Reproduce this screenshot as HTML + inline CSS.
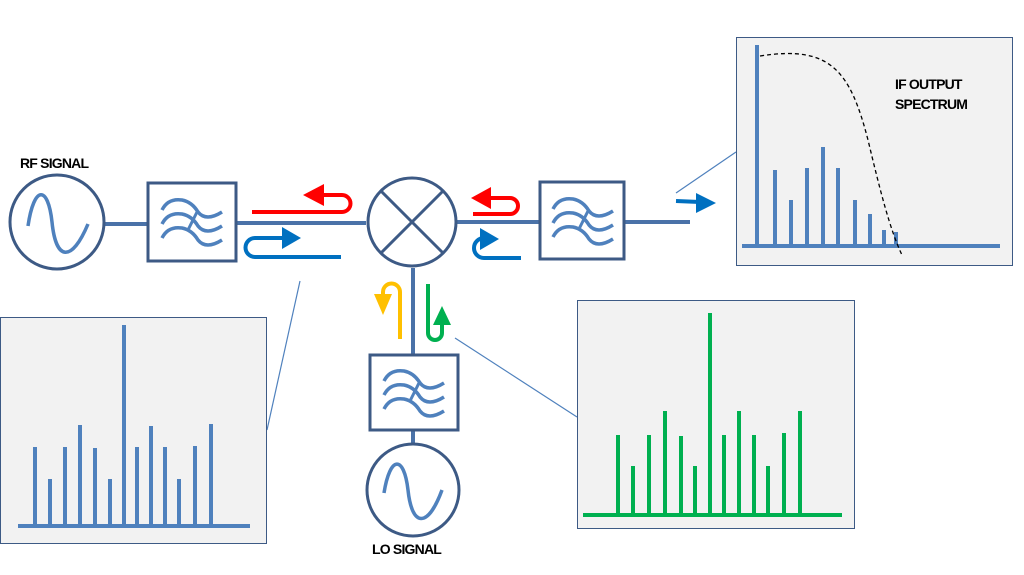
<!DOCTYPE html>
<html><head><style>body{margin:0;background:#fff}svg{display:block}</style></head><body>
<svg width="1024" height="575" viewBox="0 0 1024 575" xmlns="http://www.w3.org/2000/svg">
<defs>
<g id="filt">
<path d="M12,24 q6,-12 20,-10 q10,2 16,12 q8,10 24,0" fill="none" stroke="#4f81bd" stroke-width="3.5"/>
<path d="M12,38 q6,-12 20,-10 q10,2 16,12 q8,10 24,0" fill="none" stroke="#4f81bd" stroke-width="3.5"/>
<path d="M12,52 q6,-12 20,-10 q10,2 16,12 q8,10 24,0" fill="none" stroke="#4f81bd" stroke-width="3.5"/>
<path d="M38,44 l10,-20" stroke="#4f81bd" stroke-width="3"/>
</g>
</defs>
<g stroke="#4a72a8" stroke-width="4" fill="none">
<line x1="105" y1="224" x2="148" y2="224"/>
<line x1="236" y1="223" x2="366" y2="223"/>
<line x1="457" y1="222" x2="540" y2="222"/>
<line x1="624" y1="222" x2="690" y2="222"/>
<line x1="413" y1="268" x2="413" y2="355"/>
<line x1="413" y1="430" x2="413" y2="443"/>
</g>
<g stroke="#3d5a85" stroke-width="3" fill="#fff">
<circle cx="57" cy="222" r="47"/>
<rect x="148" y="183" width="88" height="78"/>
<circle cx="412" cy="222" r="44"/>
<rect x="540" y="182" width="84" height="77"/>
<rect x="370" y="355" width="88" height="75"/>
<circle cx="413" cy="490" r="46"/>
<line x1="381" y1="191" x2="443" y2="253"/>
<line x1="443" y1="191" x2="381" y2="253"/>
</g>
<path d="M28,226 C34,185 48,185 52,222 C56,262 72,262 88,224" fill="none" stroke="#4f81bd" stroke-width="3.5"/>
<path d="M384,493 C390,455 404,455 408,490 C412,528 428,528 442,490" fill="none" stroke="#4f81bd" stroke-width="3.5"/>
<use href="#filt" x="150" y="186"/>
<use href="#filt" x="541" y="185"/>
<use href="#filt" x="372" y="357"/>
<path d="M252,212 H342 a8.5,8.5 0 0 0 0,-17 H320" fill="none" stroke="#f00" stroke-width="4"/>
<polygon points="303,195 324,184 324,206" fill="#f00"/>
<path d="M473,214 H510 a8,8 0 0 0 0,-16 H490" fill="none" stroke="#f00" stroke-width="4"/>
<polygon points="471,198 491,187 491,209" fill="#f00"/>
<path d="M341,257 H255 a9.5,9.5 0 0 1 0,-19 H285" fill="none" stroke="#0070c0" stroke-width="4"/>
<polygon points="301,238 282,227 282,249" fill="#0070c0"/>
<path d="M521,258 H484 a10,10 0 0 1 0,-20 H484" fill="none" stroke="#0070c0" stroke-width="4"/>
<polygon points="499,239 480,228 480,250" fill="#0070c0"/>
<line x1="676" y1="201" x2="700" y2="202" stroke="#0070c0" stroke-width="4"/>
<polygon points="716,203 696,193 696,213" fill="#0070c0"/>
<path d="M400,339 V292 a8.5,8.5 0 0 0 -17,0 V300" fill="none" stroke="#ffc000" stroke-width="4"/>
<polygon points="383,315 374,294 392,294" fill="#ffc000"/>
<path d="M428,284 V333 a7,7 0 0 0 14,0 V322" fill="none" stroke="#00b050" stroke-width="4"/>
<polygon points="442,306 433,325 451,325" fill="#00b050"/>
<g stroke="#4f81bd" stroke-width="1.2">
<line x1="300" y1="281" x2="267" y2="430"/>
<line x1="455" y1="338" x2="577" y2="417"/>
<line x1="676" y1="193" x2="736" y2="152"/>
</g>
<g fill="#f2f2f2" stroke="#3d5a85" stroke-width="1">
<rect x="0.5" y="317.5" width="266" height="226"/>
<rect x="577.5" y="300.5" width="277" height="228"/>
<rect x="736.5" y="37.5" width="276" height="228"/>
</g>
<g stroke="#4f81bd" stroke-width="4">
<line x1="18" y1="526" x2="250" y2="526"/>
<line x1="35" y1="526" x2="35" y2="447"/><line x1="50" y1="526" x2="50" y2="479"/><line x1="65" y1="526" x2="65" y2="447"/><line x1="80" y1="526" x2="80" y2="425"/><line x1="95" y1="526" x2="95" y2="448"/><line x1="110" y1="526" x2="110" y2="479"/><line x1="124" y1="526" x2="124" y2="325"/><line x1="137" y1="526" x2="137" y2="447"/><line x1="151" y1="526" x2="151" y2="426"/><line x1="165" y1="526" x2="165" y2="447"/><line x1="179" y1="526" x2="179" y2="479"/><line x1="195" y1="526" x2="195" y2="446"/><line x1="211" y1="526" x2="211" y2="424"/>
<line x1="742" y1="246" x2="1000" y2="246"/>
<line x1="757" y1="246" x2="757" y2="45"/><line x1="775" y1="246" x2="775" y2="170"/><line x1="791" y1="246" x2="791" y2="200"/><line x1="807" y1="246" x2="807" y2="168"/><line x1="823" y1="246" x2="823" y2="147"/><line x1="838" y1="246" x2="838" y2="168"/><line x1="855" y1="246" x2="855" y2="200"/><line x1="870" y1="246" x2="870" y2="214"/><line x1="884" y1="246" x2="884" y2="230"/><line x1="896" y1="246" x2="896" y2="232"/>
</g>
<path d="M760,56 C830,45 850,70 868,140 C880,190 890,230 902,255" fill="none" stroke="#000" stroke-width="1.3" stroke-dasharray="4,3"/>
<g stroke="#00b050" stroke-width="4">
<line x1="583" y1="515" x2="842" y2="515"/>
<line x1="618" y1="515" x2="618" y2="435"/><line x1="633" y1="515" x2="633" y2="466"/><line x1="649" y1="515" x2="649" y2="435"/><line x1="665" y1="515" x2="665" y2="411"/><line x1="681" y1="515" x2="681" y2="436"/><line x1="695" y1="515" x2="695" y2="466"/><line x1="710" y1="515" x2="710" y2="313"/><line x1="724" y1="515" x2="724" y2="435"/><line x1="739" y1="515" x2="739" y2="411"/><line x1="754" y1="515" x2="754" y2="435"/><line x1="768" y1="515" x2="768" y2="466"/><line x1="784" y1="515" x2="784" y2="433"/><line x1="800" y1="515" x2="800" y2="411"/>
</g>
<g font-family="Liberation Sans, sans-serif" font-weight="bold" font-size="14" fill="#000" letter-spacing="-0.8">
<text x="20" y="168">RF SIGNAL</text>
<text x="372" y="554">LO SIGNAL</text>
<text x="895" y="89">IF OUTPUT</text>
<text x="895" y="109">SPECTRUM</text>
</g>
</svg>
</body></html>
